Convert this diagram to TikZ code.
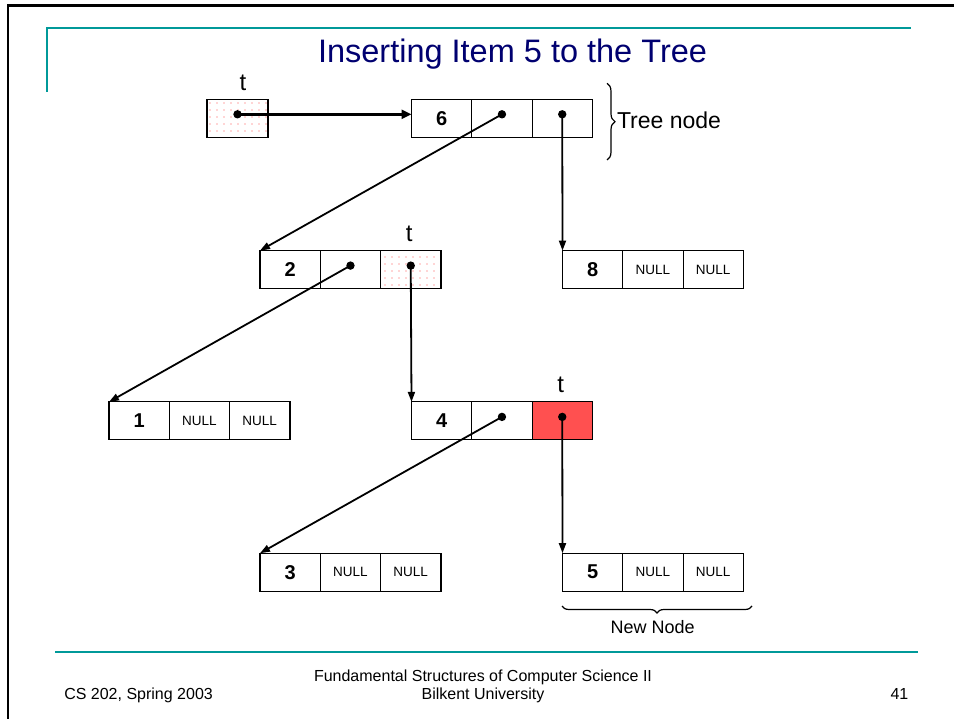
\documentclass[tikz,border=0pt]{standalone}
\usepackage{fontspec}
\setmainfont{Liberation Sans}
\usetikzlibrary{arrows.meta,decorations.pathreplacing,patterns.meta}

\definecolor{slideteal}{RGB}{0,153,153}
\definecolor{titlenavy}{RGB}{0,0,112}
\definecolor{curcell}{RGB}{255,80,80}

% font sizes (1pt = 1 unit of the picture)
\newcommand\keytxt{\fontsize{20}{23}\selectfont\bfseries}
\newcommand\nulltxt{\fontsize{13.5}{16}\selectfont}
\newcommand\foottxt{\fontsize{16}{19}\selectfont}

% a three-cell tree record: name, left, top, key, middle text, right text, right-cell style
\newcommand\treerec[7]{%
  \node[cell, anchor=north west, font=\keytxt] (#1a) at (#2,#3) {#4};
  \node[cell, anchor=west, font=\nulltxt] (#1b) at (#1a.east) {#5};
  \node[cell, anchor=west, font=\nulltxt, #7] (#1c) at (#1b.east) {#6};
}

\begin{document}
\begin{tikzpicture}[x=1pt, y=-1pt,
  cell/.style={draw, line width=1.2pt, minimum width=60.3pt, minimum height=38pt,
               inner sep=0pt, outer sep=0pt},
  tpat/.style={pattern={Dots[distance=7pt, radius=0.6pt]}, pattern color=red!70},
  txt/.style={inner sep=0pt, outer sep=0pt},
  tlabel/.style={txt, anchor=base, font=\fontsize{24}{28}\selectfont},
  link/.style={line width=1.8pt, -{Triangle[length=10pt, width=7pt]}},
  knob/.style={radius=4.2pt}]

\useasboundingbox (0,0) rectangle (954,719);
\fill[white] (0,0) rectangle (954,719);

% slide frame and rules
\draw[line width=2.5pt] (8,719) -- (8,5.5) -- (954,5.5);
\draw[slideteal, line width=2pt] (46.7,92) -- (46.7,28) -- (911,28);
\draw[slideteal, line width=2pt] (55,652.3) -- (918,652.3);

% title
\node[txt, anchor=base, text=titlenavy, font=\fontsize{32.5}{38}\selectfont]
  (title) at (512.5,62.7) {Inserting Item 5 to the Tree};

% pointer variable t
\node[cell, anchor=north west, minimum width=61pt, tpat] (tbox) at (207,99.3) {};
\node[tlabel] (t1) at (243,90.3) {t};

% tree records
\treerec{r6}{411.5}{99.3}{6}{}{}{}
\treerec{r2}{260}{250.6}{2}{}{}{tpat}
\treerec{r8}{562.5}{250.6}{8}{NULL}{NULL}{}
\treerec{r1}{109}{401.9}{1}{NULL}{NULL}{}
\treerec{r4}{411.5}{401.9}{4}{}{}{fill=curcell}
\treerec{r3}{260}{553.2}{3}{NULL}{NULL}{}
\treerec{r5}{562.5}{553.2}{5}{NULL}{NULL}{}

\node[tlabel] (t2) at (409.3,241.6) {t};
\node[tlabel] (t3) at (560.7,392.9) {t};

% pointer origins
\coordinate (pt)  at ([yshift=4pt]tbox.center);
\coordinate (p6l) at ([yshift=4pt]r6b.center);
\coordinate (p6r) at ([yshift=4pt]r6c.center);
\coordinate (p2l) at ([yshift=4pt]r2b.center);
\coordinate (p2r) at ([yshift=4pt]r2c.center);
\coordinate (p4l) at ([yshift=4pt]r4b.center);
\coordinate (p4r) at ([yshift=4pt]r4c.center);

% links
\draw[line width=3pt, -{Triangle[length=10pt, width=9pt]}] (pt) -- ([yshift=4pt]r6a.west);
\draw[link] (p6l) -- (r2a.north west);
\draw[link] (p6r) -- (r8a.north west);
\draw[link] (p2l) -- (r1a.north west);
\draw[link] (p2r) -- (r4a.north west);
\draw[link] (p4l) -- (r3a.north west);
\draw[link] (p4r) -- (r5a.north west);

\foreach \p in {pt,p6l,p6r,p2l,p2r,p4l,p4r}
  \fill (\p) circle[knob];

% braces
\draw[line width=1.2pt, decorate, decoration={brace, amplitude=8pt}] (607,83.3) -- (607,160);
\node[txt, anchor=base west, font=\fontsize{23}{27}\selectfont] (treelbl) at (617,128.3) {Tree node};
\draw[line width=1.2pt, decorate, decoration={brace, amplitude=7pt}] (752,606) -- (562,606);
\node[txt, anchor=base, font=\fontsize{18}{22}\selectfont] (newlbl) at (652.7,633.3) {New Node};

% footer
\node[txt, anchor=base west, font=\foottxt] (course) at (64.3,699) {CS 202, Spring 2003};
\node[txt, anchor=base, font=\foottxt] (foot1) at (483,681) {Fundamental Structures of Computer Science II};
\node[txt, anchor=base, font=\foottxt] (foot2) at (483,699) {Bilkent University};
\node[txt, anchor=base east, font=\foottxt] (pageno) at (908.3,699) {41};
\end{tikzpicture}
\end{document}
